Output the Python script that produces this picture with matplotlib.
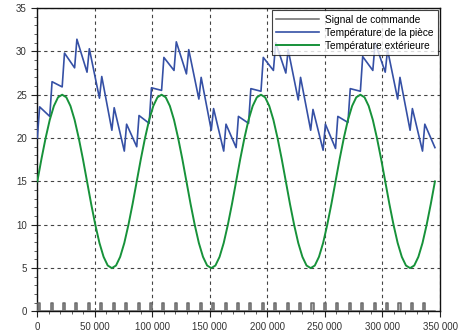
import matplotlib
matplotlib.use("Agg")
import matplotlib.pyplot as plt
from matplotlib.ticker import MultipleLocator, FuncFormatter

# ---------------- data ----------------
# heater pulses (s): switch-on / switch-off times
pulse_on = [700, 11500, 22300, 33100, 43900, 54700, 65500, 76300,
            87100, 97900, 108700, 119500, 130300, 141100, 151900, 162700,
            173500, 184300, 195100, 205900, 216700, 227500, 238300, 249100,
            259900, 270700, 281500, 292300, 303100, 313900, 324700, 335500]
pulse_off = [2500, 13300, 24100, 34900, 45700, 56500, 67300, 78100,
             88900, 99700, 110500, 121300, 132100, 142900, 153700, 164500,
             175300, 186100, 196900, 207700, 218500, 229300, 240100, 250900,
             261700, 272500, 283300, 294100, 304900, 315700, 326500, 337300]

# room temperature: value just before each heating phase and just after it
room_low_t = [0, 10800, 21600, 32400, 43200, 54000, 64800, 75600,
              86400, 97200, 108000, 118800, 129600, 140400, 151200, 162000,
              172800, 183600, 194400, 205200, 216000, 226800, 237600, 248400,
              259200, 270000, 280800, 291600, 302400, 313200, 324000, 334800]
room_high_t = [2000, 12800, 23600, 34400, 45200, 56000, 66800, 77600,
               88400, 99200, 110000, 120800, 131600, 142400, 153200, 164000,
               174800, 185600, 196400, 207200, 218000, 228800, 239600, 250400,
               261200, 272000, 282800, 293600, 304400, 315200, 326000, 336800]
room_low = [20.0, 22.5, 25.9, 28.1, 27.6, 24.6, 20.9, 18.5,
            19.0, 21.7, 25.5, 27.8, 27.4, 24.5, 20.9, 18.5,
            18.9, 21.7, 25.4, 27.8, 27.5, 24.4, 20.9, 18.6,
            18.8, 21.8, 25.4, 27.8, 27.6, 24.5, 20.9, 18.5]
room_high = [23.6, 26.5, 29.8, 31.4, 30.3, 27.1, 23.5, 21.6,
             22.6, 25.8, 29.3, 31.1, 30.2, 27.0, 23.4, 21.6,
             22.5, 25.7, 29.3, 31.0, 30.2, 27.0, 23.3, 21.6,
             22.5, 25.7, 29.4, 31.0, 30.2, 27.0, 23.4, 21.6]
room_end_t = 345600
room_end = 18.9

# outside temperature, hourly readings over four days
outside_t_step = 3600
outside = [
    15.0, 17.6, 20.0, 22.1, 23.7, 24.7, 25.0, 24.7, 23.7, 22.1, 20.0, 17.6,
    15.0, 12.4, 10.0, 7.9, 6.3, 5.3, 5.0, 5.3, 6.3, 7.9, 10.0, 12.4,
    15.0, 17.6, 20.0, 22.1, 23.7, 24.7, 25.0, 24.7, 23.7, 22.1, 20.0, 17.6,
    15.0, 12.4, 10.0, 7.9, 6.3, 5.3, 5.0, 5.3, 6.3, 7.9, 10.0, 12.4,
    15.0, 17.6, 20.0, 22.1, 23.7, 24.7, 25.0, 24.7, 23.7, 22.1, 20.0, 17.6,
    15.0, 12.4, 10.0, 7.9, 6.3, 5.3, 5.0, 5.3, 6.3, 7.9, 10.0, 12.4,
    15.0, 17.6, 20.0, 22.1, 23.7, 24.7, 25.0, 24.7, 23.7, 22.1, 20.0, 17.6,
    15.0, 12.4, 10.0, 7.9, 6.3, 5.3, 5.0, 5.3, 6.3, 7.9, 10.0, 12.4,
    15.0,
]

labels = ["Signal de commande", "Température de la pièce", "Température extérieure"]

# ---------------- build series ----------------
sig_t, sig_v = [0], [0]
for a, b in zip(pulse_on, pulse_off):
    sig_t += [a, a, b, b]
    sig_v += [0, 1, 1, 0]
sig_t.append(room_end_t)
sig_v.append(0)

room_t, room_v = [], []
for t0, v0, t1, v1 in zip(room_low_t, room_low, room_high_t, room_high):
    room_t += [t0, t1]
    room_v += [v0, v1]
room_t.append(room_end_t)
room_v.append(room_end)

out_t = [i * outside_t_step for i in range(len(outside))]

# ---------------- plot ----------------
plt.rcParams['font.family'] = ['Liberation Sans', 'DejaVu Sans']
fig = plt.figure(figsize=(4.58, 3.31), dpi=100)
ax = fig.add_axes([0.0815, 0.059, 0.8792, 0.9168])

ax.fill_between(sig_t, 0, sig_v, color="#b4b4b4", lw=0, zorder=2)
ax.plot(sig_t, sig_v, color="#6a6a6a", lw=1.1, label=labels[0], zorder=3)
ax.plot(room_t, room_v, color="#3550a5", lw=1.2, label=labels[1], zorder=4)
ax.plot(out_t, outside, color="#17923a", lw=1.4, label=labels[2], zorder=4)

ax.set_xlim(0, 350000)
ax.set_ylim(0, 35)
ax.xaxis.set_major_locator(MultipleLocator(50000))
ax.xaxis.set_minor_locator(MultipleLocator(10000))
ax.yaxis.set_major_locator(MultipleLocator(5))
ax.yaxis.set_minor_locator(MultipleLocator(1))
ax.xaxis.set_major_formatter(FuncFormatter(lambda v, p: f"{int(v):,}".replace(",", " ")))

ax.tick_params(which="major", labelsize=7, length=4, width=0.8, colors="#222222", labelcolor="#333333")
ax.tick_params(which="minor", length=2, width=0.6, colors="#444444")
for s in ax.spines.values():
    s.set_linewidth(1.0)
    s.set_color("#111111")

ax.grid(True, which="major", color="#444444", linestyle=(0, (3, 3)), linewidth=0.8)
ax.set_axisbelow(True)

leg = ax.legend(loc="upper right", fontsize=7.3, frameon=True, fancybox=False,
                edgecolor="#111111", handlelength=4.2, labelspacing=0.3,
                borderaxespad=0.2, borderpad=0.45, handletextpad=0.6)
leg.get_frame().set_linewidth(0.8)
leg.set_zorder(10)

fig.savefig("out.png", dpi=100)
